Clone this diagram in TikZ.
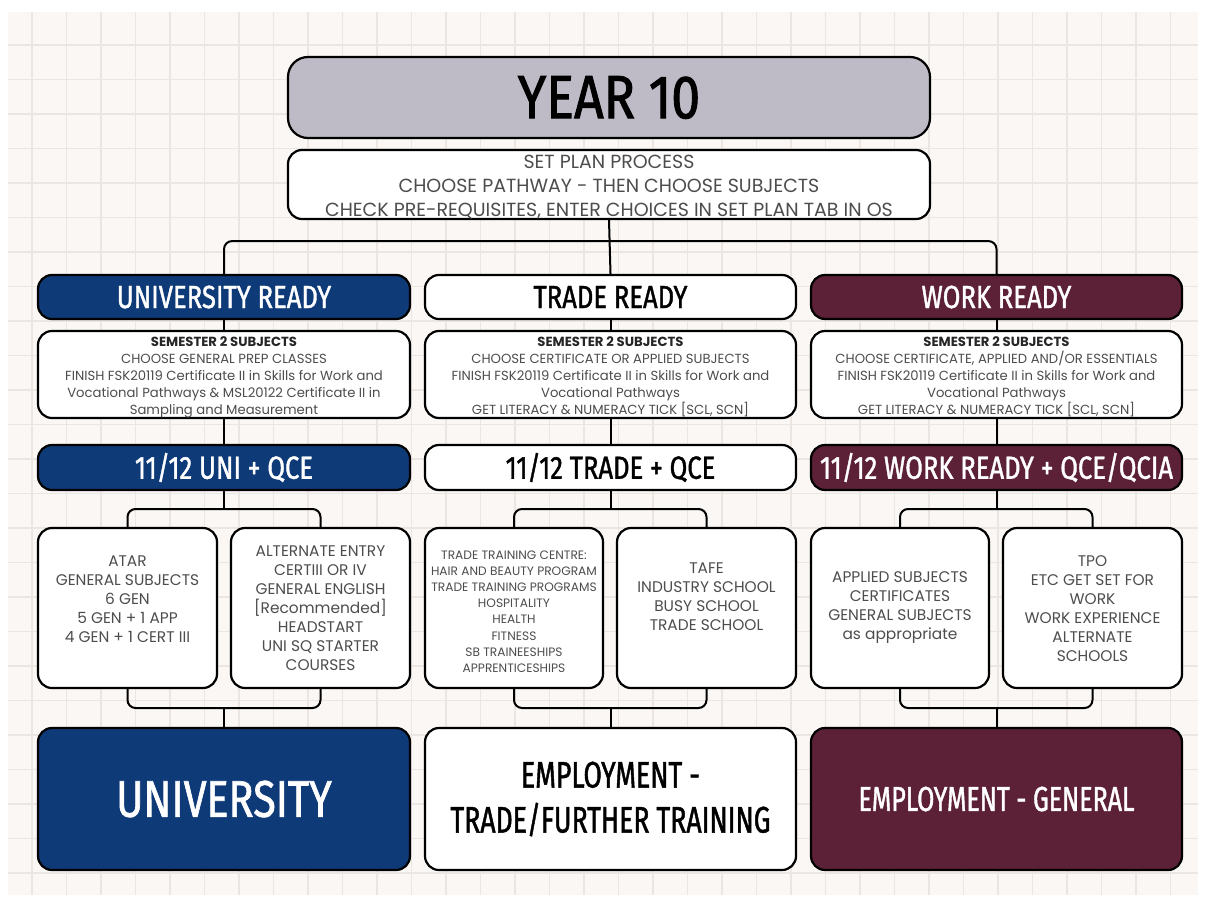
\documentclass[tikz,border=0pt]{standalone}
\usepackage{fontspec}
\usetikzlibrary{calc}
\setmainfont{Poppins}
\newfontfamily\hfont[FakeStretch=0.8,FakeBold=1.2]{Fira Sans}
\newfontfamily\hfontn[FakeStretch=0.72,FakeBold=1.2]{Fira Sans}
\newfontfamily\hfontw[FakeStretch=0.85,FakeBold=1.5]{Fira Sans}
\definecolor{bgc}{HTML}{FAF7F4}
\definecolor{gridc}{HTML}{ECE6E2}
\definecolor{navy}{HTML}{0E3A78}
\definecolor{maroon}{HTML}{5C2137}
\definecolor{lav}{HTML}{BEBBC6}
\definecolor{txt}{HTML}{4D4D4D}
\tikzset{
  box/.style={draw=black,line width=2.2pt,rounded corners=14pt,fill=white,inner sep=0pt},
  conn/.style={draw=black,line width=2pt,rounded corners=8pt},
  hd/.style={font=\hfont\fontsize{32}{36}\selectfont},
  body/.style={text=txt,align=center,font=\fontsize{19}{24}\selectfont},
  sem/.style={text=txt,align=center,font=\fontsize{13.2}{17}\selectfont},
  sub/.style={text=txt,align=center,font=\fontsize{15.4}{19}\selectfont},
}
\begin{document}
\begin{tikzpicture}[x=1pt,y=-1pt]
\useasboundingbox (0,0) rectangle (1206,907);
\fill[white] (0,0) rectangle (1206,907);
\fill[bgc] (8,12) rectangle (1198,895);
\begin{scope}
\clip (8,12) rectangle (1198,895);
\foreach \i in {0,...,34} {
  \draw[gridc,line width=1.2pt] ({-2.5+34.5*\i},12) -- ({-2.5+34.5*\i},895);
}
\foreach \j in {0,...,26} {
  \draw[gridc,line width=1.2pt] (8,{10.5+34.5*\j}) -- (1198,{10.5+34.5*\j});
}
\end{scope}
% top
\node[box,fill=lav,rounded corners=20pt,minimum width=642pt,minimum height=81pt] (year) at (609,97.5)
  {\hfontw\fontsize{61}{61}\selectfont YEAR 10};
\node[box,minimum width=642pt,minimum height=69pt] (plan) at (609,184.5) {};
\node[body] (plant) at (609,187) {SET PLAN PROCESS\\CHOOSE PATHWAY - THEN CHOOSE SUBJECTS\\CHECK PRE-REQUISITES, ENTER CHOICES IN SET PLAN TAB IN OS};
% headers
\node[box,fill=navy,text=white,hd,minimum width=372pt,minimum height=44pt] (uniR) at (224,297) {UNIVERSITY READY};
\node[box,hd,minimum width=371pt,minimum height=44pt] (traR) at (610.5,297) {TRADE READY};
\node[box,fill=maroon,text=white,hd,minimum width=371pt,minimum height=44pt] (wrkR) at (996.5,297) {WORK READY};
% semester
\node[box,minimum width=372pt,minimum height=87pt] (uniS) at (224,374.5) {};
\node[box,minimum width=371pt,minimum height=87pt] (traS) at (610.5,374.5) {};
\node[box,minimum width=371pt,minimum height=87pt] (wrkS) at (996.5,374.5) {};
\node[sem] (uniSt) at (224,377) {{\bfseries\color{black!85}SEMESTER 2 SUBJECTS}\\CHOOSE GENERAL PREP CLASSES\\FINISH FSK20119 Certificate II in Skills for Work and\\Vocational Pathways \& MSL20122 Certificate II in\\Sampling and Measurement};
\node[sem] (traSt) at (610.5,377) {{\bfseries\color{black!85}SEMESTER 2 SUBJECTS}\\CHOOSE CERTIFICATE OR APPLIED SUBJECTS\\FINISH FSK20119 Certificate II in Skills for Work and\\Vocational Pathways\\GET LITERACY \& NUMERACY TICK [SCL, SCN]};
\node[sem] (wrkSt) at (996.5,377) {{\bfseries\color{black!85}SEMESTER 2 SUBJECTS}\\CHOOSE CERTIFICATE, APPLIED AND/OR ESSENTIALS\\FINISH FSK20119 Certificate II in Skills for Work and\\Vocational Pathways\\GET LITERACY \& NUMERACY TICK [SCL, SCN]};
% qce
\node[box,fill=navy,text=white,hd,minimum width=372pt,minimum height=45pt] (uniQ) at (224,467.5) {11/12 UNI + QCE};
\node[box,hd,minimum width=371pt,minimum height=45pt] (traQ) at (610.5,467.5) {11/12 TRADE + QCE};
\node[box,fill=maroon,text=white,hd,minimum width=371pt,minimum height=45pt] (wrkQ) at (996.5,467.5) {11/12 WORK READY + QCE/QCIA};
% sub boxes
\node[box,minimum width=179pt,minimum height=160pt] (uniA) at (127.5,608) {};
\node[box,minimum width=179pt,minimum height=160pt] (uniB) at (320.5,608) {};
\node[box,minimum width=178pt,minimum height=160pt] (traA) at (514,608) {};
\node[box,minimum width=179pt,minimum height=160pt] (traB) at (706.5,608) {};
\node[box,minimum width=178pt,minimum height=160pt] (wrkA) at (900,608) {};
\node[box,minimum width=179pt,minimum height=160pt] (wrkB) at (1092.5,608) {};
\node[sub] (uniAt) at (127.5,599) {ATAR\\GENERAL SUBJECTS\\6 GEN\\5 GEN + 1 APP\\4 GEN + 1 CERT III};
\node[sub] (uniBt) at (320.5,608) {ALTERNATE ENTRY\\CERTIII OR IV\\GENERAL ENGLISH\\{[}Recommended{]}\\HEADSTART\\UNI SQ STARTER\\COURSES};
\node[sem,font=\fontsize{12.2}{16.2}\selectfont] (traAt) at (514,611.5) {TRADE TRAINING CENTRE:\\HAIR AND BEAUTY PROGRAM\\TRADE TRAINING PROGRAMS\\HOSPITALITY\\HEALTH\\FITNESS\\SB TRAINEESHIPS\\APPRENTICESHIPS};
\node[sub] (traBt) at (706.5,596.5) {TAFE\\INDUSTRY SCHOOL\\BUSY SCHOOL\\TRADE SCHOOL};
\node[sub] (wrkAt) at (900,608) {APPLIED SUBJECTS\\CERTIFICATES\\GENERAL SUBJECTS\\as appropriate};
\node[sub] (wrkBt) at (1092.5,608.5) {TPO\\ETC GET SET FOR\\WORK\\WORK EXPERIENCE\\ALTERNATE\\SCHOOLS};
% finals
\node[box,fill=navy,text=white,minimum width=372pt,minimum height=142pt,font=\hfont\fontsize{51.5}{52}\selectfont] (uniF) at (224,799) {UNIVERSITY};
\node[box,minimum width=371pt,minimum height=142pt,align=center,font=\hfontn\fontsize{37}{45}\selectfont] (traF) at (610.5,799) {EMPLOYMENT -\\TRADE/FURTHER TRAINING};
\node[box,fill=maroon,text=white,minimum width=371pt,minimum height=142pt,font=\hfontn\fontsize{34.7}{36}\selectfont] (wrkF) at (996.5,799) {EMPLOYMENT - GENERAL};
% junction coordinates
\coordinate (jtop) at ($(plan.south)+(0,21)$);
\coordinate (ju) at ($(uniQ.south)!0.5!(uniQ.south |- uniA.north)$);
\coordinate (jt) at ($(traQ.south)!0.5!(traQ.south |- traA.north)$);
\coordinate (jw) at ($(wrkQ.south)!0.5!(wrkQ.south |- wrkA.north)$);
\coordinate (bu) at ($(uniF.north)!0.5!(uniF.north |- uniA.south)$);
\coordinate (bt) at ($(traF.north)!0.5!(traF.north |- traA.south)$);
\coordinate (bw) at ($(wrkF.north)!0.5!(wrkF.north |- wrkA.south)$);
% connectors
\draw[conn] (uniR.north) |- (jtop) -| (wrkR.north);
\draw[conn] (plan.south) -- (traR.north);
\draw[conn] (uniR.south) -- (uniS.north);
\draw[conn] (traR.south) -- (traS.north);
\draw[conn] (wrkR.south) -- (wrkS.north);
\draw[conn] (uniS.south) -- (uniQ.north);
\draw[conn] (traS.south) -- (traQ.north);
\draw[conn] (wrkS.south) -- (wrkQ.north);
\draw[conn] (uniA.north) |- (ju) -| (uniB.north);
\draw[conn] (uniQ.south) -- (ju);
\draw[conn] (traA.north) |- (jt) -| (traB.north);
\draw[conn] (traQ.south) -- (jt);
\draw[conn] (wrkA.north) |- (jw) -| (wrkB.north);
\draw[conn] (wrkQ.south) -- (jw);
\draw[conn] (uniA.south) |- (bu) -| (uniB.south);
\draw[conn] (bu) -- (uniF.north);
\draw[conn] (traA.south) |- (bt) -| (traB.south);
\draw[conn] (bt) -- (traF.north);
\draw[conn] (wrkA.south) |- (bw) -| (wrkB.south);
\draw[conn] (bw) -- (wrkF.north);
\end{tikzpicture}
\end{document}
